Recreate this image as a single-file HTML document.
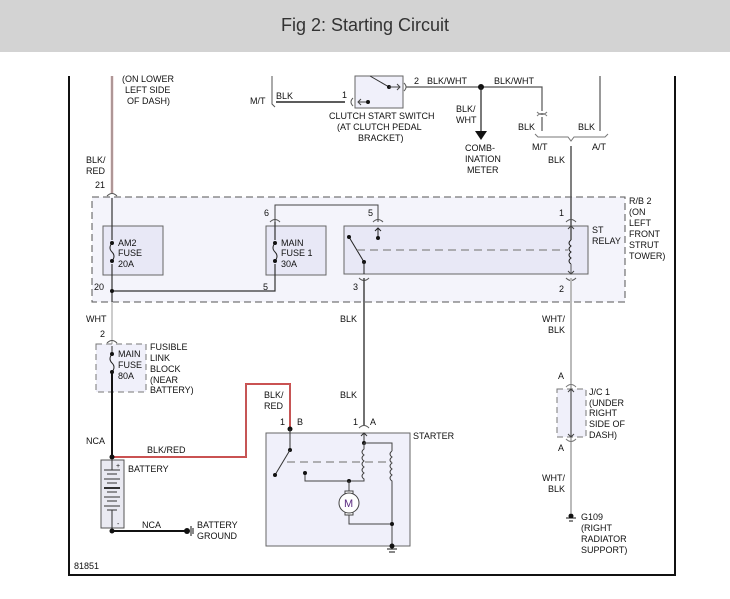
<!DOCTYPE html>
<html><head><meta charset="utf-8"><style>
html,body{margin:0;padding:0;background:#fff;width:730px;height:599px;overflow:hidden}
.hdr{position:absolute;left:0;top:0;width:730px;height:52px;background:#d3d3d3;text-align:center;line-height:50px;font-family:"Liberation Sans",sans-serif;font-size:18px;color:#333}
svg{position:absolute;left:0;top:0}
text{font-family:"Liberation Sans",sans-serif;font-size:9px;fill:#111}
</style></head><body>
<div class="hdr">Fig 2: Starting Circuit</div>
<svg width="730" height="599" viewBox="0 0 730 599">
<!-- frame -->
<path d="M69 76 V575 H675 V76" fill="none" stroke="#111" stroke-width="2"/>
<!-- R/B 2 box -->
<rect x="92" y="197" width="533" height="105" fill="#f4f4fb" stroke="#555" stroke-dasharray="7,4"/>
<text x="629" y="204">R/B 2</text><text x="629" y="215">(ON</text><text x="629" y="226">LEFT</text><text x="629" y="237">FRONT</text><text x="629" y="248">STRUT</text><text x="629" y="259">TOWER)</text>
<!-- BLK/RED top wire -->
<line x1="112" y1="76" x2="112" y2="193" stroke="#c9a0a0" stroke-width="2.5"/>
<line x1="112" y1="76" x2="112" y2="193" stroke="#888" stroke-width="0.8"/>
<text x="122" y="82">(ON LOWER</text><text x="125" y="93">LEFT SIDE</text><text x="127" y="104">OF DASH)</text>
<text x="86" y="163">BLK/</text><text x="86" y="174">RED</text><text x="95" y="188">21</text>
<path d="M107 196 q5 -5 10 0" fill="none" stroke="#555"/>
<!-- AM2 fuse -->
<rect x="103" y="226" width="60" height="49" fill="#e8e8f6" stroke="#666"/>
<line x1="112" y1="198" x2="112" y2="302" stroke="#333" stroke-width="1.2"/>
<rect x="109" y="240" width="6" height="24" fill="#e8e8f6"/>
<path d="M112 243 q-4 5 0 9 q4 4 0 9" fill="none" stroke="#222"/>
<circle cx="112" cy="243" r="2" fill="#111"/><circle cx="112" cy="261" r="2" fill="#111"/>
<text x="118" y="246">AM2</text><text x="118" y="256">FUSE</text><text x="118" y="267">20A</text>
<text x="94" y="290">20</text>
<!-- main fuse 1 -->
<rect x="266" y="226" width="60" height="49" fill="#e8e8f6" stroke="#666"/>
<path d="M275 222 V291 H112" fill="none" stroke="#333" stroke-width="1.2"/>
<rect x="272" y="240" width="6" height="24" fill="#e8e8f6"/>
<path d="M275 243 q-4 5 0 9 q4 4 0 9" fill="none" stroke="#222"/>
<circle cx="275" cy="243" r="2" fill="#111"/><circle cx="275" cy="261" r="2" fill="#111"/>
<circle cx="112" cy="291" r="2" fill="#111"/>
<text x="281" y="246">MAIN</text><text x="281" y="256">FUSE 1</text><text x="281" y="267">30A</text>
<text x="264" y="216">6</text><text x="263" y="290">5</text>
<path d="M270 222 q5 -5 10 0" fill="none" stroke="#555"/>
<path d="M275 222 V205 H378 V222" fill="none" stroke="#444"/>
<!-- ST relay -->
<rect x="344" y="226" width="244" height="48" fill="#e8e8f6" stroke="#666"/>
<text x="368" y="216">5</text><text x="592" y="233">ST</text><text x="592" y="244">RELAY</text>
<path d="M373 222 q5 -5 10 0" fill="none" stroke="#555"/>
<line x1="378" y1="228" x2="378" y2="238" stroke="#222"/><path d="M375 231 l3 -3 l3 3" fill="none" stroke="#222"/>
<circle cx="378" cy="238" r="2" fill="#111"/>
<line x1="349" y1="237" x2="364" y2="262" stroke="#222"/>
<circle cx="349" cy="237" r="2" fill="#111"/><circle cx="364" cy="262" r="2" fill="#111"/>
<line x1="357" y1="250" x2="568" y2="250" stroke="#888" stroke-dasharray="8,5" stroke-width="1.2"/>
<line x1="364" y1="262" x2="364" y2="274" stroke="#222"/>
<path d="M359 278 q5 5 10 0" fill="none" stroke="#555"/>
<text x="353" y="290">3</text>
<line x1="571" y1="146" x2="571" y2="240" stroke="#555" stroke-width="1.5"/>
<path d="M566 222 q5 -5 10 0" fill="none" stroke="#555"/>
<path d="M571 240 q-4 3 0 6 q-4 3 0 6 q-4 3 0 6 q-4 3 0 6" fill="none" stroke="#222"/>
<line x1="571" y1="264" x2="571" y2="274" stroke="#555"/>
<path d="M568 271 l3 3 l3 -3 M568 229 l3 -3 l3 3" fill="none" stroke="#444"/>
<path d="M566 278 q5 5 10 0" fill="none" stroke="#555"/>
<text x="559" y="216">1</text><text x="559" y="292">2</text>
<!-- relay pin3 down BLK -->
<line x1="364" y1="278" x2="364" y2="425" stroke="#444" stroke-width="1.5"/>
<text x="340" y="322">BLK</text><text x="340" y="398">BLK</text>
<!-- WHT/BLK down -->
<line x1="571" y1="278" x2="571" y2="513" stroke="#bbb" stroke-width="2"/>
<text x="542" y="322">WHT/</text><text x="548" y="333">BLK</text>
<rect x="557" y="389" width="29" height="48" fill="#f0f0fa" stroke="#777" stroke-dasharray="6,4"/>
<line x1="571" y1="389" x2="571" y2="437" stroke="#333"/>
<path d="M568 392 l3 -3 l3 3 M568 434 l3 3 l3 -3" fill="none" stroke="#444"/>
<path d="M566 387 q5 -5 10 0 M566 439 q5 5 10 0" fill="none" stroke="#777"/>
<text x="558" y="379">A</text><text x="558" y="451">A</text>
<text x="589" y="395">J/C 1</text><text x="589" y="406">(UNDER</text><text x="589" y="416">RIGHT</text><text x="589" y="427">SIDE OF</text><text x="589" y="438">DASH)</text>
<text x="542" y="481">WHT/</text><text x="548" y="492">BLK</text>
<circle cx="571" cy="516" r="2.5" fill="#111"/><line x1="566" y1="518" x2="576" y2="518" stroke="#111"/><line x1="569" y1="521" x2="573" y2="521" stroke="#111"/>
<text x="581" y="520">G109</text><text x="581" y="531">(RIGHT</text><text x="581" y="542">RADIATOR</text><text x="581" y="553">SUPPORT)</text>
<!-- WHT lower -->
<line x1="112" y1="302" x2="112" y2="345" stroke="#ccc" stroke-width="2"/>
<text x="86" y="322">WHT</text><text x="100" y="337">2</text>
<path d="M107 343 q5 -5 10 0" fill="none" stroke="#555"/>
<rect x="96" y="344" width="50" height="48" fill="#f0f0fa" stroke="#777" stroke-dasharray="6,4"/>
<line x1="112" y1="346" x2="112" y2="354" stroke="#333"/>
<path d="M112 354 q-4 5 0 9 q4 4 0 9" fill="none" stroke="#222"/>
<circle cx="112" cy="354" r="2" fill="#111"/><circle cx="112" cy="372" r="2" fill="#111"/>
<text x="118" y="357">MAIN</text><text x="118" y="368">FUSE</text><text x="118" y="379">80A</text>
<text x="150" y="350">FUSIBLE</text><text x="150" y="361">LINK</text><text x="150" y="372">BLOCK</text><text x="150" y="383">(NEAR</text><text x="150" y="393">BATTERY)</text>
<line x1="112" y1="372" x2="112" y2="457" stroke="#111" stroke-width="2"/>
<text x="86" y="444">NCA</text>
<!-- BLK/RED to starter -->
<path d="M112 457 H246 V384 H290 V428" fill="none" stroke="#e04040" stroke-width="2"/>
<path d="M112 457 H246 V384 H290 V428" fill="none" stroke="#888" stroke-width="0.6"/>
<text x="147" y="453">BLK/RED</text>
<text x="264" y="398">BLK/</text><text x="264" y="409">RED</text>
<text x="280" y="425">1</text><text x="297" y="425">B</text>
<text x="353" y="425">1</text><text x="370" y="425">A</text>
<!-- battery -->
<rect x="101" y="460" width="23" height="68" fill="#eaeaf2" stroke="#555"/>
<circle cx="112" cy="457" r="2.5" fill="#111"/>
<g stroke="#333"><line x1="112" y1="460" x2="112" y2="470"/><line x1="104" y1="470" x2="120" y2="470"/><line x1="107" y1="474" x2="117" y2="474"/><line x1="104" y1="479" x2="120" y2="479"/><line x1="107" y1="483" x2="117" y2="483"/><line x1="104" y1="488" x2="120" y2="488" stroke-width="2"/><line x1="107" y1="492" x2="117" y2="492"/><line x1="104" y1="497" x2="120" y2="497"/><line x1="107" y1="501" x2="117" y2="501"/><line x1="104" y1="506" x2="120" y2="506"/><line x1="107" y1="510" x2="117" y2="510"/><line x1="112" y1="510" x2="112" y2="528"/></g>
<text x="116" y="468" style="font-size:7px">+</text><text x="117" y="526" style="font-size:7px">-</text>
<text x="128" y="472">BATTERY</text>
<line x1="112" y1="531" x2="185" y2="531" stroke="#111" stroke-width="2"/>
<circle cx="112" cy="531" r="2.5" fill="#111"/>
<circle cx="187" cy="531" r="3" fill="#111"/><line x1="191" y1="526" x2="191" y2="536" stroke="#111"/><line x1="193" y1="528" x2="193" y2="534" stroke="#111"/>
<text x="142" y="528">NCA</text>
<text x="197" y="528">BATTERY</text><text x="197" y="539">GROUND</text>
<!-- starter -->
<rect x="266" y="433" width="144" height="113" fill="#f0f0fa" stroke="#666"/>
<text x="413" y="439">STARTER</text>
<circle cx="290" cy="429" r="2.5" fill="#111"/>
<line x1="290" y1="429" x2="290" y2="450" stroke="#333"/>
<circle cx="290" cy="450" r="2" fill="#111"/>
<line x1="290" y1="450" x2="275" y2="475" stroke="#333"/><circle cx="275" cy="475" r="2" fill="#111"/>
<path d="M359 428 q5 -5 10 0" fill="none" stroke="#555"/>
<line x1="364" y1="433" x2="364" y2="442" stroke="#333"/><path d="M361 436 l3 -3 l3 3" fill="none" stroke="#333"/>
<circle cx="364" cy="443" r="2" fill="#111"/>
<path d="M364 443 H392 V451" fill="none" stroke="#444"/>
<path d="M364 443 V449 q-4 3 0 6 q-4 3 0 6 q-4 3 0 6 q-4 3 0 6 q-4 3 0 6 V481 H305 V473" fill="none" stroke="#444"/>
<circle cx="305" cy="473" r="2" fill="#111"/>
<path d="M392 451 q-4 3 0 6 q-4 3 0 6 q-4 3 0 6 q-4 3 0 6 q-4 3 0 6 V548" fill="none" stroke="#444"/>
<line x1="287" y1="462" x2="392" y2="462" stroke="#888" stroke-dasharray="8,5" stroke-width="1.2"/>
<circle cx="349" cy="481" r="2" fill="#111"/>
<line x1="349" y1="481" x2="349" y2="491" stroke="#444"/>
<rect x="345" y="491" width="8" height="3" fill="#fff" stroke="#444"/>
<rect x="345" y="512" width="8" height="3" fill="#fff" stroke="#444"/>
<circle cx="349" cy="503" r="10" fill="#fff" stroke="#444"/>
<text x="344" y="507" style="font-size:11px;fill:#5a2a80">M</text>
<path d="M349 515 V524 H392" fill="none" stroke="#444"/>
<circle cx="392" cy="524" r="2" fill="#111"/>
<circle cx="392" cy="546" r="2.5" fill="#111"/>
<line x1="387" y1="549" x2="397" y2="549" stroke="#111"/><line x1="389" y1="552" x2="395" y2="552" stroke="#111"/>
<!-- top clutch switch -->
<path d="M272 76 V104 l3 3" fill="none" stroke="#555"/>
<text x="250" y="104">M/T</text><text x="276" y="99">BLK</text>
<line x1="276" y1="102" x2="345" y2="102" stroke="#444" stroke-width="1.8"/>
<text x="342" y="98">1</text>
<rect x="355" y="76" width="48" height="32" fill="#f0f0fa" stroke="#666"/>
<path d="M353 98 q-4 4 0 8" fill="none" stroke="#555"/>
<path d="M358 102 H366 M361 99 l-3 3 l3 3" fill="none" stroke="#444"/><circle cx="368" cy="102" r="2" fill="#111"/>
<line x1="370" y1="76" x2="389" y2="87" stroke="#333"/><circle cx="389" cy="87" r="2" fill="#111"/>
<path d="M389 87 H400 M397 84 l3 3 l-3 3" fill="none" stroke="#444"/>
<path d="M404 83 q4 4 0 8" fill="none" stroke="#555"/>
<text x="414" y="84">2</text><text x="427" y="84">BLK/WHT</text>
<text x="494" y="84">BLK/WHT</text>
<path d="M406 87 H542 V111" fill="none" stroke="#555" stroke-width="1.2"/>
<circle cx="481" cy="87" r="3" fill="#111"/>
<line x1="481" y1="87" x2="481" y2="131" stroke="#222" stroke-width="1.2"/>
<path d="M475 131 L487 131 L481 140 Z" fill="#111"/>
<text x="456" y="112">BLK/</text><text x="456" y="123">WHT</text>
<text x="465" y="151" >COMB-</text><text x="465" y="162">INATION</text><text x="467" y="173">METER</text>
<text x="329" y="119">CLUTCH START SWITCH</text><text x="337" y="130">(AT CLUTCH PEDAL</text><text x="358" y="141">BRACKET)</text>
<path d="M537 112 q5 5 10 0 M537 116 q5 -5 10 0" fill="none" stroke="#777"/>
<line x1="542" y1="117" x2="542" y2="131" stroke="#555" stroke-width="1.2"/>
<line x1="600" y1="76" x2="600" y2="131" stroke="#555" stroke-width="1.2"/>
<text x="518" y="130">BLK</text><text x="578" y="130">BLK</text>
<path d="M535 134 l3 3 H568 l3 4 l3 -4 H605 l3 -3" fill="none" stroke="#777"/>
<text x="532" y="150">M/T</text><text x="592" y="150">A/T</text><text x="548" y="163">BLK</text>
<text x="74" y="569">81851</text>
</svg>
</body></html>
